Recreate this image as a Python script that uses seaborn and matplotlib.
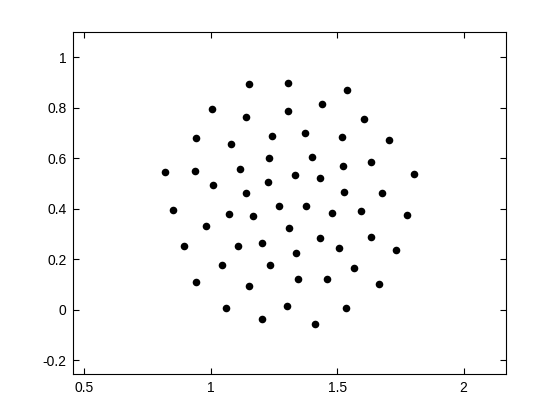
"""Scatter of a roughly circular point cloud, MATLAB-style axes."""
import matplotlib
matplotlib.use("Agg")
import matplotlib.pyplot as plt
import pandas as pd
import seaborn as sns

# point coordinates
x_vals = [1.152, 1.306, 1.538, 1.005, 1.306, 1.440, 1.140, 1.605, 0.942, 1.243,
          1.373, 1.520, 1.706, 1.080, 0.819, 0.938, 1.116, 1.231, 1.401, 1.524,
          1.633, 1.008, 1.140, 1.227, 1.334, 1.431, 1.527, 1.678, 1.805, 0.851,
          1.072, 1.167, 1.270, 1.377, 1.480, 1.595, 1.777, 0.981, 1.310, 0.894,
          1.108, 1.202, 1.431, 1.508, 1.634, 1.733, 1.045, 1.235, 1.338, 1.567,
          0.942, 1.152, 1.345, 1.460, 1.666, 1.061, 1.302, 1.535, 1.203, 1.413]
y_vals = [0.896, 0.900, 0.872, 0.796, 0.788, 0.816, 0.765, 0.757, 0.681, 0.689,
          0.701, 0.685, 0.673, 0.658, 0.546, 0.550, 0.558, 0.602, 0.606, 0.570,
          0.586, 0.495, 0.463, 0.507, 0.535, 0.520, 0.467, 0.463, 0.536, 0.396,
          0.380, 0.373, 0.412, 0.412, 0.384, 0.392, 0.376, 0.332, 0.324, 0.254,
          0.253, 0.265, 0.285, 0.245, 0.288, 0.237, 0.177, 0.177, 0.225, 0.165,
          0.111, 0.094, 0.122, 0.122, 0.103, 0.007, 0.015, 0.007, -0.037, -0.057]

x_ticks = [0.5, 1, 1.5, 2]
x_tick_labels = ["0.5", "1", "1.5", "2"]
y_ticks = [-0.2, 0, 0.2, 0.4, 0.6, 0.8, 1]
y_tick_labels = ["-0.2", "0", "0.2", "0.4", "0.6", "0.8", "1"]

sns.set_style("ticks")
plt.rcParams["font.family"] = ["Liberation Sans", "DejaVu Sans"]
plt.rcParams["axes.unicode_minus"] = False

df = pd.DataFrame({"x": x_vals, "y": y_vals})

fig = plt.figure(figsize=(5.6, 4.2), dpi=100, facecolor="white")
ax = fig.add_axes([0.131, 0.110, 0.773, 0.813])
sns.scatterplot(data=df, x="x", y="y", color="black", s=30, linewidth=0, ax=ax)

ax.set_xlim(0.4565, 2.169)
ax.set_ylim(-0.254, 1.099)
ax.set_xticks(x_ticks)
ax.set_xticklabels(x_tick_labels)
ax.set_yticks(y_ticks)
ax.set_yticklabels(y_tick_labels)
ax.set_xlabel("")
ax.set_ylabel("")
ax.tick_params(direction="in", length=4, width=0.8, top=True, right=True,
               labelsize=10, colors="black", pad=5)
for sp in ax.spines.values():
    sp.set_visible(True)
    sp.set_color("black")
    sp.set_linewidth(0.8)

fig.savefig("out.png", dpi=100, facecolor="white")
